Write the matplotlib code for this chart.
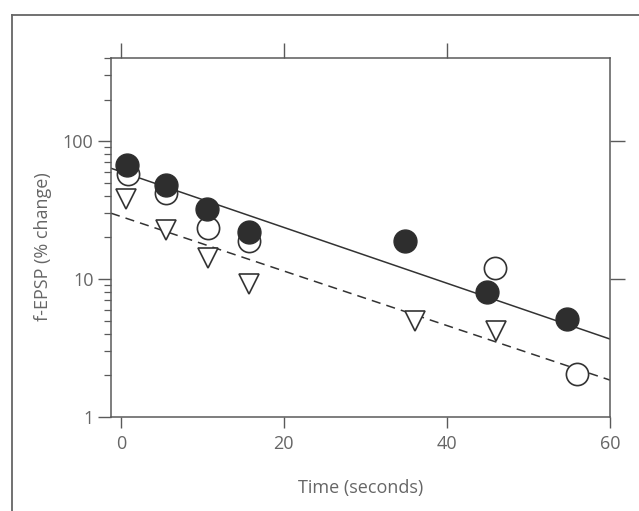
import matplotlib
matplotlib.use("Agg")
import matplotlib.pyplot as plt
from matplotlib.lines import Line2D
from matplotlib.ticker import LogLocator, NullFormatter, NullLocator

# filled circles
filled_x = [0.8, 5.6, 10.6, 15.7, 34.8, 44.9, 54.7]
filled_y = [67, 48, 32, 22, 19, 8.0, 5.1]
# open circles
open_x = [0.9, 5.6, 10.7, 15.7, 45.9, 56.0]
open_y = [58, 42, 23.5, 19, 12, 2.05]
# open triangles
tri_x = [0.7, 5.6, 10.7, 15.7, 36.1, 46.0]
tri_y = [38, 22.5, 14.2, 9.2, 5.0, 4.2]
# fitted lines (end points)
line_x = [-1.2, 60]
solid_y = [63.5, 3.67]
dashed_y = [30.0, 1.85]

xticks = [0, 20, 40, 60]
yticks = [1, 10, 100]

plt.rcParams['font.family'] = ['Open Sans', 'DejaVu Sans']
ink = '#333333'
grey = '#5a5a5a'
text_grey = '#666666'

fig = plt.figure(figsize=(6.39, 5.11), dpi=100)
ax = fig.add_axes([0.1737, 0.184, 0.781, 0.7025])

ax.plot(line_x, solid_y, '-', color=ink, lw=1.1, zorder=2)
ax.plot(line_x, dashed_y, '--', color=ink, lw=1.1, dashes=(6, 4), zorder=2)
ax.plot(open_x, open_y, 'o', ms=16, mfc='white', mec=ink, mew=1.2, zorder=3)
ax.plot(tri_x, tri_y, 'v', ms=15, mfc='white', mec=ink, mew=1.2, zorder=3)
ax.plot(filled_x, filled_y, 'o', ms=16.5, mfc='#2e2e2e', mec='#2e2e2e', zorder=4)

ax.set_yscale('log')
ax.set_xlim(-1.2, 60)
ax.set_ylim(1, 400)
ax.set_xticks(xticks)
ax.set_yticks(yticks)
ax.set_yticklabels([str(v) for v in yticks])
ax.yaxis.set_minor_locator(LogLocator(base=10, subs=range(2, 10)))
ax.yaxis.set_minor_formatter(NullFormatter())
ax.tick_params(which='major', direction='out', length=9.5, width=1, color=grey,
               labelcolor=text_grey, labelsize=13, pad=3)
ax.tick_params(which='minor', direction='out', length=5, width=0.9, color=grey)
ax.tick_params(axis='x', length=8, pad=5)
for s in ax.spines.values():
    s.set_color(grey)
    s.set_linewidth(1.1)

ax.set_xlabel('Time (seconds)', color=text_grey, fontsize=13, labelpad=19)
ax.set_ylabel('f-EPSP (% change)', color=text_grey, fontsize=13)
ax.yaxis.set_label_coords(-0.118, 0.475)

# ticks on the top and right spines
top = ax.twiny()
top.set_xlim(ax.get_xlim())
top.set_xticks([0, 20, 40])
top.set_xticklabels([])
top.tick_params(direction='out', length=11, width=1, color=grey)

right = ax.twinx()
right.set_yscale('log')
right.set_ylim(ax.get_ylim())
right.set_yticks([10, 100])
right.yaxis.set_minor_locator(NullLocator())
right.set_yticklabels([])
right.tick_params(direction='out', length=11, width=1, color=grey)
for a in (top, right):
    for s in a.spines.values():
        s.set_visible(False)

# outer frame of the figure panel
fig.add_artist(Line2D([12 / 639, 12 / 639], [0, 1 - 15 / 511],
                      transform=fig.transFigure, color='#666666', lw=1.3))
fig.add_artist(Line2D([12 / 639, 1], [1 - 15 / 511, 1 - 15 / 511],
                      transform=fig.transFigure, color='#666666', lw=1.3))

fig.savefig('out.png', dpi=100)
